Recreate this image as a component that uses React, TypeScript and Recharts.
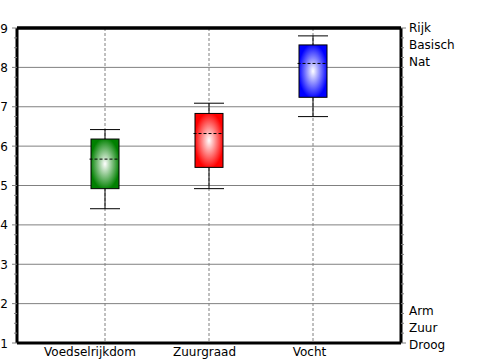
import React from 'react';
import { ComposedChart, Bar, XAxis, YAxis, ReferenceLine, CartesianGrid } from 'recharts';

const categories = ['Voedselrijkdom', 'Zuurgraad', 'Vocht'];
const whiskerLow = [4.41, 4.92, 6.75];
const q1 = [4.92, 5.46, 7.24];
const median = [5.67, 6.32, 8.1];
const q3 = [6.18, 6.83, 8.57];
const whiskerHigh = [6.42, 7.09, 8.8];
const boxColors = ['#008000', '#ff0000', '#0000ff'];

const majorTicks = [1, 2, 3, 4, 5, 6, 7, 8, 9];
const axisTicks = [
  1, 1.25, 1.5, 1.75, 2, 2.25, 2.5, 2.75, 3, 3.25, 3.5, 3.75, 4, 4.25, 4.5, 4.75,
  5, 5.25, 5.5, 5.75, 6, 6.25, 6.5, 6.75, 7, 7.25, 7.5, 7.75, 8, 8.25, 8.5, 8.75, 9,
];
const gridValues = [2, 3, 4, 5, 6, 7, 8];
const rightTicks = [1, 9];
const topLabels = ['Rijk', 'Basisch', 'Nat'];
const bottomLabels = ['Arm', 'Zuur', 'Droog'];

const data = categories.map((name, i) => ({
  name,
  range: [whiskerLow[i], whiskerHigh[i]],
  low: whiskerLow[i],
  q1: q1[i],
  med: median[i],
  q3: q3[i],
  high: whiskerHigh[i],
  color: boxColors[i],
}));

const FONT = 'DejaVu Sans';
const labelOffsets = [-15, -4.5, -3.5];

const BoxShape = (props: any) => {
  const { x, y, width, height, payload, index } = props;
  const top = Math.min(y, y + height);
  const h = Math.abs(height);
  const { low, high } = payload;
  const py = (v: number) => top + ((high - v) / (high - low)) * h;
  const cx = x + width / 2;
  const bw = 28;
  const gid = `boxgrad${index}`;
  return (
    <g>
      <defs>
        <radialGradient id={gid} cx="50%" cy="50%" r="55%">
          <stop offset="0%" stopColor="#ffffff" />
          <stop offset="95%" stopColor={payload.color} />
        </radialGradient>
      </defs>
      <line x1={cx} x2={cx} y1={py(high)} y2={py(low)} stroke="#000" strokeWidth={1} />
      <line x1={x} x2={x + width} y1={py(high)} y2={py(high)} stroke="#000" strokeWidth={1} />
      <line x1={x} x2={x + width} y1={py(low)} y2={py(low)} stroke="#000" strokeWidth={1} />
      <rect
        x={cx - bw / 2}
        y={py(payload.q3)}
        width={bw}
        height={py(payload.q1) - py(payload.q3)}
        fill={`url(#${gid})`}
        stroke="#000"
        strokeWidth={1}
      />
      <line
        x1={cx - bw / 2 - 1.5}
        x2={cx + bw / 2}
        y1={py(payload.med)}
        y2={py(payload.med)}
        stroke="#000"
        strokeWidth={1}
        strokeDasharray="3 2"
      />
    </g>
  );
};

const LeftTick = (props: any) => {
  const { x, y, payload } = props;
  const v = payload.value;
  const major = majorTicks.includes(v);
  return (
    <g>
      {major ? (
        <>
          <line x1={x - 5} x2={x} y1={y} y2={y} stroke="#808080" strokeWidth={1} />
          <text x={x - 9} y={y + 4.5} textAnchor="end" fontFamily={FONT} fontSize={12} fill="#000">
            {v}
          </text>
        </>
      ) : (
        <line x1={x - 3} x2={x} y1={y} y2={y} stroke="#808080" strokeWidth={1} />
      )}
    </g>
  );
};

const RightTick = (props: any) => {
  const { x, y, payload } = props;
  const v = payload.value;
  const major = rightTicks.includes(v);
  let labels: React.ReactNode = null;
  if (v === 9) {
    labels = topLabels.map((t, i) => (
      <text key={t} x={x + 8} y={y + 4 + i * 16.8} fontFamily={FONT} fontSize={12} fill="#000">
        {t}
      </text>
    ));
  } else if (v === 1) {
    labels = bottomLabels.map((t, i) => (
      <text
        key={t}
        x={x + 8}
        y={y + 5.5 - (bottomLabels.length - 1 - i) * 16.8}
        fontFamily={FONT}
        fontSize={12}
        fill="#000"
      >
        {t}
      </text>
    ));
  }
  return (
    <g>
      <line x1={x} x2={x + (major ? 5 : 3)} y1={y} y2={y} stroke="#808080" strokeWidth={1} />
      {labels}
    </g>
  );
};

const BottomTick = (props: any) => {
  const { x, y, payload, index } = props;
  return (
    <text
      x={x + (labelOffsets[index] || 0)}
      y={y + 13}
      textAnchor="middle"
      fontFamily={FONT}
      fontSize={12}
      fill="#000"
    >
      {payload.value}
    </text>
  );
};

export default function App() {
  return (
    <div style={{ position: 'absolute', left: 0, top: 0, width: 500, height: 360, background: '#fff' }}>
      <ComposedChart
        width={500}
        height={360}
        data={data}
        margin={{ top: 28, right: 0, bottom: 0, left: 0 }}
      >
        <CartesianGrid
          yAxisId="left"
          horizontal={false}
          vertical={true}
          stroke="#808080"
          strokeDasharray="3 2"
        />
        <CartesianGrid
          yAxisId="left"
          horizontal={true}
          vertical={false}
          horizontalValues={gridValues}
          stroke="#808080"
        />
        <XAxis
          dataKey="name"
          type="category"
          padding={{ left: 36, right: 36 }}
          height={17}
          tickSize={0}
          tickMargin={0}
          tickLine={false}
          axisLine={{ stroke: '#000', strokeWidth: 3 }}
          tick={<BottomTick />}
          interval={0}
        />
        <YAxis
          yAxisId="left"
          orientation="left"
          width={17}
          type="number"
          domain={[1, 9]}
          allowDataOverflow
          ticks={axisTicks}
          interval={0}
          tickSize={0}
          tickMargin={0}
          tickLine={false}
          axisLine={{ stroke: '#000', strokeWidth: 3 }}
          tick={<LeftTick />}
        />
        <YAxis
          yAxisId="right"
          orientation="right"
          width={99}
          type="number"
          domain={[1, 9]}
          allowDataOverflow
          ticks={axisTicks}
          interval={0}
          tickSize={0}
          tickMargin={0}
          tickLine={false}
          axisLine={{ stroke: '#000', strokeWidth: 3 }}
          tick={<RightTick />}
        />
        <ReferenceLine yAxisId="left" y={9} stroke="#000" strokeWidth={3} />
        <ReferenceLine yAxisId="right" y={9} stroke="#000" strokeWidth={3} />
        <Bar
          yAxisId="left"
          dataKey="range"
          barSize={30}
          isAnimationActive={false}
          shape={<BoxShape />}
        />
      </ComposedChart>
    </div>
  );
}
